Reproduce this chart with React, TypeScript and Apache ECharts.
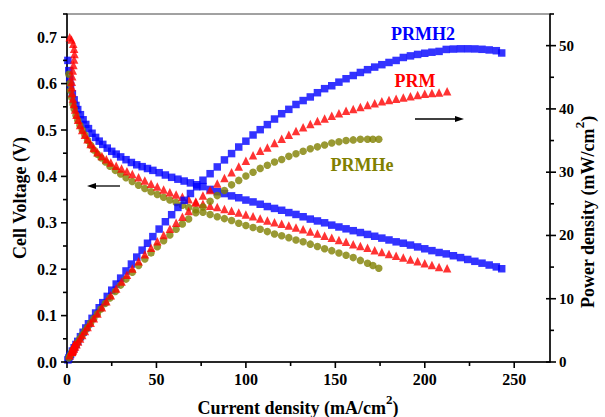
import React, { useEffect, useRef } from "react";
import * as echarts from "echarts";

// ---- data (current density mA/cm2, cell voltage V, power density mW/cm2) ----
const blueI = [0.5, 1, 1.5, 2, 3, 4, 5, 6, 7.5, 9, 10.5, 12, 14, 16, 18, 20, 22.5, 25, 27.5, 30, 33, 36, 39, 42, 45, 48, 51.5, 55, 58.5, 62, 65.5, 69, 72.5, 76, 80, 84, 88, 92, 96, 100, 104, 108, 112, 116, 120, 124, 128, 132, 136, 140, 144, 148, 152, 156, 160, 164, 168, 172, 176, 180, 184, 188, 192, 196, 200, 204, 208, 212, 216, 220, 224, 228, 232, 236, 240, 243];
const blueV = [0.650, 0.628, 0.610, 0.596, 0.578, 0.565, 0.553, 0.544, 0.533, 0.522, 0.512, 0.503, 0.493, 0.484, 0.476, 0.469, 0.461, 0.454, 0.448, 0.442, 0.436, 0.430, 0.425, 0.421, 0.417, 0.413, 0.408, 0.403, 0.398, 0.394, 0.390, 0.386, 0.382, 0.378, 0.372, 0.367, 0.363, 0.358, 0.354, 0.349, 0.345, 0.340, 0.335, 0.331, 0.327, 0.322, 0.318, 0.313, 0.308, 0.304, 0.300, 0.295, 0.291, 0.287, 0.283, 0.279, 0.275, 0.271, 0.267, 0.263, 0.259, 0.256, 0.252, 0.248, 0.244, 0.240, 0.236, 0.233, 0.229, 0.225, 0.221, 0.217, 0.213, 0.209, 0.205, 0.201];
const blueP = [0.33, 0.63, 0.92, 1.19, 1.73, 2.26, 2.77, 3.26, 4.0, 4.7, 5.38, 6.04, 6.9, 7.74, 8.57, 9.38, 10.37, 11.35, 12.32, 13.26, 14.39, 15.48, 16.58, 17.68, 18.77, 19.82, 21.01, 22.17, 23.28, 24.43, 25.55, 26.63, 27.7, 28.73, 29.76, 30.83, 31.94, 32.94, 33.98, 34.9, 35.88, 36.72, 37.52, 38.4, 39.24, 39.93, 40.7, 41.32, 41.89, 42.56, 43.2, 43.66, 44.23, 44.77, 45.28, 45.76, 46.2, 46.61, 46.99, 47.34, 47.66, 48.13, 48.38, 48.61, 48.8, 48.96, 49.09, 49.4, 49.46, 49.5, 49.5, 49.48, 49.42, 49.32, 49.2, 48.84];

const redI = [1.5, 2.5, 3.5, 4, 4.2, 4, 3.6, 3.2, 2.9, 2.7, 2.7, 2.9, 3.3, 3.8, 4.5, 5.3, 6.2, 7.3, 8.5, 10, 11.5, 13.2, 15, 17, 19.5, 22, 24.5, 27.5, 30.5, 33.5, 36.5, 40, 43.5, 47, 50.5, 54, 57.5, 61, 64.5, 68, 72, 76, 80, 84, 88, 92, 96, 100, 104, 108, 112, 116, 120, 124, 128, 132, 136, 140, 144, 148, 152, 156, 160, 164, 168, 172, 176, 180, 184, 188, 192, 196, 200, 204, 208, 212.5];
const redV = [0.700, 0.695, 0.686, 0.675, 0.664, 0.652, 0.640, 0.628, 0.616, 0.604, 0.592, 0.580, 0.568, 0.556, 0.544, 0.533, 0.522, 0.511, 0.500, 0.490, 0.480, 0.470, 0.461, 0.452, 0.444, 0.437, 0.430, 0.423, 0.417, 0.411, 0.405, 0.398, 0.391, 0.384, 0.378, 0.372, 0.366, 0.361, 0.356, 0.351, 0.346, 0.341, 0.337, 0.334, 0.330, 0.326, 0.322, 0.318, 0.314, 0.309, 0.305, 0.301, 0.298, 0.294, 0.290, 0.286, 0.281, 0.277, 0.272, 0.268, 0.263, 0.259, 0.254, 0.250, 0.246, 0.241, 0.237, 0.233, 0.229, 0.225, 0.221, 0.217, 0.213, 0.209, 0.205, 0.202];
const redP = [1.05, 1.74, 2.4, 2.7, 2.79, 2.61, 2.3, 2.01, 1.79, 1.63, 1.6, 1.68, 1.87, 2.11, 2.45, 2.82, 3.24, 3.73, 4.25, 4.9, 5.52, 6.2, 6.92, 7.68, 8.66, 9.61, 10.54, 11.63, 12.72, 13.77, 14.78, 15.92, 17.01, 18.05, 19.09, 20.09, 21.05, 22.02, 22.96, 23.87, 25.2, 26.3, 27.2, 28.2, 29.1, 30.0, 30.91, 31.8, 32.66, 33.37, 33.9, 34.6, 35.3, 35.9, 36.5, 37.1, 37.6, 38.1, 38.5, 38.9, 39.3, 39.7, 40.0, 40.3, 40.6, 40.9, 41.2, 41.4, 41.6, 41.8, 42.0, 42.2, 42.4, 42.5, 42.6, 42.8];

const oliveI = [1, 1.5, 2, 2.6, 3.3, 4, 5, 6, 7.2, 8.5, 10, 11.5, 13.2, 15, 17, 19, 21.5, 24, 27, 30, 33, 36.5, 40, 43.5, 47, 50.5, 54, 57.5, 61, 64.5, 68, 72, 76, 80, 84, 88, 92, 96, 100, 104, 108, 112, 116, 120, 124, 128, 132, 136, 140, 144, 148, 152, 156, 160, 164, 168, 171, 174.3];
const oliveV = [0.620, 0.600, 0.585, 0.570, 0.556, 0.545, 0.532, 0.521, 0.510, 0.500, 0.489, 0.478, 0.467, 0.457, 0.448, 0.440, 0.431, 0.422, 0.413, 0.405, 0.397, 0.389, 0.381, 0.374, 0.367, 0.361, 0.355, 0.349, 0.344, 0.338, 0.333, 0.328, 0.323, 0.318, 0.313, 0.309, 0.305, 0.299, 0.294, 0.290, 0.286, 0.281, 0.276, 0.272, 0.268, 0.263, 0.259, 0.254, 0.249, 0.244, 0.240, 0.235, 0.230, 0.225, 0.219, 0.213, 0.208, 0.202];
const oliveP = [0.62, 0.9, 1.17, 1.48, 1.83, 2.18, 2.66, 3.13, 3.67, 4.25, 4.89, 5.5, 6.16, 6.86, 7.62, 8.36, 9.27, 10.13, 11.15, 12.15, 13.1, 14.2, 15.24, 16.27, 17.25, 18.23, 19.17, 20.07, 20.98, 21.8, 22.6, 23.6, 24.5, 25.4, 26.3, 27.1, 28.0, 28.7, 29.4, 30.0, 30.6, 31.1, 31.6, 32.0, 32.5, 32.9, 33.3, 33.7, 34.0, 34.3, 34.6, 34.8, 35.0, 35.1, 35.2, 35.2, 35.2, 35.2];

// ---- ticks ----
const xMajor = [0, 50, 100, 150, 200, 250];
const xMinor = [25, 75, 125, 175, 225];
const vMajor = [0, 0.1, 0.2, 0.3, 0.4, 0.5, 0.6, 0.7];
const vMinor = [0.05, 0.15, 0.25, 0.35, 0.45, 0.55, 0.65, 0.75];
const pMajor = [0, 10, 20, 30, 40, 50];
const pMinor = [5, 15, 25, 35, 45, 55];

const seriesNames = ["PRMH2", "PRM", "PRMHe"];
const colors = ["#0000ff", "#ff0000", "#808000"];

const FONT = "'Liberation Serif', 'Times New Roman', serif";
const X_MAX = 270;

export default function App() {
  const ref = useRef<HTMLDivElement>(null);
  useEffect(() => {
    const chart = echarts.init(ref.current!, null, { renderer: "svg" });
    const pair = (xs: number[], ys: number[]) => xs.map((x, i) => [x, ys[i]]);
    const lbl = { fontFamily: FONT, fontWeight: "bold", fontSize: 16, color: "#000" };
    const lineStyle = { color: "#000", width: 1.5 };
    const hidden = { show: false };

    const option: any = {
      animation: false,
      backgroundColor: "#ffffff",
      grid: {
        left: 67, right: 55, top: 14, bottom: 55,
        show: true, borderColor: "#444", borderWidth: 1,
        containLabel: false, outerBoundsMode: "none",
      },
      xAxis: [
        {
          type: "value", min: 0, max: X_MAX, interval: 50, position: "bottom",
          axisLine: { show: true, onZero: false, lineStyle },
          axisTick: hidden,
          axisLabel: { ...lbl, margin: 9, formatter: (v: number) => (v % 50 === 0 ? String(v) : "") },
          splitLine: hidden,
        },
      ],
      yAxis: [
        {
          type: "value", min: 0, max: 0.75, interval: 0.1, position: "left",
          axisLine: { show: true, onZero: false, lineStyle },
          axisTick: hidden,
          axisLabel: { ...lbl, margin: 10, formatter: (v: number) => (v > 0.72 ? "" : v.toFixed(1)) },
          splitLine: hidden,
        },
        {
          type: "value", min: 0, max: 55, interval: 10, position: "right",
          axisLine: { show: true, onZero: false, lineStyle },
          axisTick: hidden,
          axisLabel: { ...lbl, fontSize: 15, margin: 9, formatter: (v: number) => (v % 10 === 0 ? String(v) : "") },
          splitLine: hidden,
        },
      ],
      series: [
        { name: seriesNames[0] + " V", type: "scatter", xAxisIndex: 0, yAxisIndex: 0, data: pair(blueI, blueV), symbol: "rect", symbolSize: 7.5, itemStyle: { color: colors[0] } },
        { name: seriesNames[2] + " V", type: "scatter", xAxisIndex: 0, yAxisIndex: 0, data: pair(oliveI, oliveV), symbol: "circle", symbolSize: 7.5, itemStyle: { color: colors[2] } },
        { name: seriesNames[1] + " V", type: "scatter", xAxisIndex: 0, yAxisIndex: 0, data: pair(redI, redV), symbol: "triangle", symbolSize: 8.5, itemStyle: { color: colors[1] } },
        { name: seriesNames[0] + " P", type: "scatter", xAxisIndex: 0, yAxisIndex: 1, data: pair(blueI, blueP), symbol: "rect", symbolSize: 7.5, itemStyle: { color: colors[0] } },
        { name: seriesNames[2] + " P", type: "scatter", xAxisIndex: 0, yAxisIndex: 1, data: pair(oliveI, oliveP), symbol: "circle", symbolSize: 7.5, itemStyle: { color: colors[2] } },
        { name: seriesNames[1] + " P", type: "scatter", xAxisIndex: 0, yAxisIndex: 1, data: pair(redI, redP), symbol: "triangle", symbolSize: 8.5, itemStyle: { color: colors[1] } },
      ],
    };
    chart.setOption(option);

    // ticks placed through the library's own axis scales
    const tickEls: any[] = [];
    const tk = (x1: number, y1: number, x2: number, y2: number) => {
      if ([x1, y1, x2, y2].every((n) => Number.isFinite(n))) {
        tickEls.push({ type: "line", silent: true, z: 100, shape: { x1, y1, x2, y2 }, style: { stroke: "#000", lineWidth: 1.6 } });
      }
    };
    const xPix = (v: number) => Number(chart.convertToPixel({ xAxisIndex: 0 }, v));
    const yLPix = (v: number) => Number(chart.convertToPixel({ yAxisIndex: 0 }, v));
    const yRPix = (v: number) => Number(chart.convertToPixel({ yAxisIndex: 1 }, v));
    const x0 = xPix(0);
    const xR = xPix(X_MAX);
    const yB = yLPix(0);
    xMajor.forEach((v) => tk(xPix(v), yB, xPix(v), yB + 6));
    xMinor.forEach((v) => tk(xPix(v), yB, xPix(v), yB + 4));
    vMajor.forEach((v) => tk(x0, yLPix(v), x0 - 6, yLPix(v)));
    vMinor.forEach((v) => tk(x0, yLPix(v), x0 - 4, yLPix(v)));
    pMajor.forEach((v) => tk(xR - 4, yRPix(v), xR + 6, yRPix(v)));
    pMinor.forEach((v) => tk(xR, yRPix(v), xR + 4, yRPix(v)));

    const richTitle = {
      a: { fontFamily: FONT, fontWeight: "bold", fontSize: 18, lineHeight: 24, fill: "#000", verticalAlign: "bottom" },
      s: { fontFamily: FONT, fontWeight: "bold", fontSize: 13, lineHeight: 14, fill: "#000", verticalAlign: "top" },
    };
    const labelText = (text: string, x: number, y: number, color: string) => ({
      type: "text", x, y,
      style: { text, align: "center", verticalAlign: "middle", fontFamily: FONT, fontWeight: "bold", fontSize: 18, fill: color },
    });

    chart.setOption({
      graphic: [
        { type: "text", x: 298, y: 405, style: { text: "{a|Current density (mA/cm}{s|2}{a|)}", align: "center", verticalAlign: "middle", rich: richTitle } },
        { type: "text", x: 20, y: 198, rotation: Math.PI / 2, style: { text: "Cell Voltage (V)", align: "center", verticalAlign: "middle", fontFamily: FONT, fontWeight: "bold", fontSize: 18, fill: "#000" } },
        { type: "text", x: 585, y: 212, rotation: Math.PI / 2, style: { text: "{a|Power density (mW/cm}{s|2}{a|)}", align: "center", verticalAlign: "middle", rich: richTitle } },
        labelText(seriesNames[0], 423, 34, colors[0]),
        labelText(seriesNames[1], 415, 81, colors[1]),
        labelText(seriesNames[2], 362, 165, colors[2]),
        { type: "line", shape: { x1: 93, y1: 186, x2: 120, y2: 186 }, style: { stroke: "#000", lineWidth: 1.3 } },
        { type: "polygon", shape: { points: [[87, 186], [96, 183], [96, 189]] }, style: { fill: "#000" } },
        { type: "line", shape: { x1: 415, y1: 119, x2: 458, y2: 119 }, style: { stroke: "#000", lineWidth: 1.3 } },
        { type: "polygon", shape: { points: [[464, 119], [455, 116], [455, 122]] }, style: { fill: "#000" } },
        ...tickEls,
      ],
    });
    return () => chart.dispose();
  }, []);
  return (
    <div
      ref={ref}
      style={{ position: "fixed", left: 0, top: 0, width: 605, height: 417, background: "#fff" }}
    />
  );
}
